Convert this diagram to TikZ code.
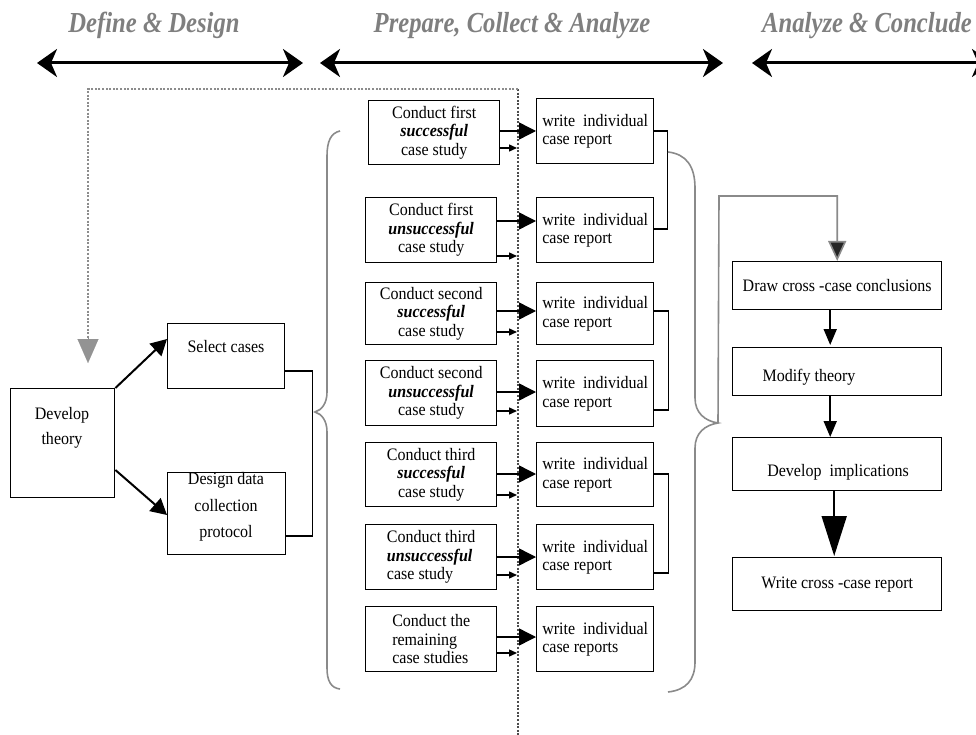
\documentclass[tikz,border=0pt]{standalone}
\usepackage{fontspec}
\setmainfont{Liberation Serif}[FakeStretch=0.915]
\newfontfamily\hdrfont{Liberation Serif}[FakeStretch=0.85]
\usetikzlibrary{arrows.meta}
\definecolor{hdrgray}{HTML}{7F7F7F}
\definecolor{bracegray}{HTML}{8A8A8A}
\definecolor{dotgray}{HTML}{8C8C8C}
\newcommand{\bi}[1]{\textbf{\textit{#1}}}

\begin{document}
\begin{tikzpicture}[x=1pt,y=-1pt,
  box/.style={draw,line width=1.4pt,inner sep=0pt,anchor=north west,align=center,
    font=\fontsize{17.5}{18.5}\selectfont},
  lbox/.style={box,align=left},
  txt/.style={inner sep=0pt,align=center,font=\fontsize{17.5}{18.5}\selectfont},
  hdr/.style={anchor=base,text=hdrgray,inner sep=0pt,
    font=\hdrfont\fontsize{29}{30}\selectfont\bfseries\itshape},
  phase/.style={line width=3pt,
    {Stealth[length=20pt,width=28pt,inset=6pt]}-{Stealth[length=20pt,width=28pt,inset=6pt]}},
  bigarr/.style={line width=1.4pt,-{Triangle[length=17pt,width=17pt]}},
  smallarr/.style={line width=1.4pt,-{Triangle[length=8pt,width=7pt]},shorten >=1pt},
  darr/.style={line width=1.8pt,-{Triangle[length=16pt,width=13pt]}},
  bigdarr/.style={line width=1.8pt,-{Triangle[length=40pt,width=25pt]}},
  devarr/.style={line width=2pt,-{Triangle[length=16pt,width=17pt]}},
  conn/.style={line width=1.4pt},
  brace/.style={draw=bracegray,line width=1.6pt},
  fb/.style={draw=bracegray,line width=1.6pt,-{Triangle[length=20pt,width=18pt,fill=black!85]}},
]
\useasboundingbox (0,0) rectangle (976,735);
\clip (0,0) rectangle (976,735);

% phase headings
\node[hdr] (h1) at (154,33) {Define \& Design};
\node[hdr] (h2) at (512,33) {Prepare, Collect \& Analyze};
\node[hdr] (h3) at (867,33) {Analyze \& Conclude};

\coordinate (p1l) at (37,63);  \coordinate (p1r) at (303,63);
\coordinate (p2l) at (320,63); \coordinate (p2r) at (723,63);
\coordinate (p3l) at (752,63); \coordinate (p3r) at (992,63);
\draw[phase] (p1l) -- (p1r);
\draw[phase] (p2l) -- (p2r);
\draw[phase] (p3l) -- (p3r);

% dotted guide lines
\coordinate (dtop) at (88,89);
\coordinate (dtip) at (88,363);
\coordinate (vtop) at (518,89);
\coordinate (vbot) at (518,735);
\draw[gray!60!black,line width=1.3pt,dash pattern=on 2pt off 1.6pt] (vtop) -- (vbot);
\draw[dotgray,line width=2.6pt,dash pattern=on 2pt off 1.6pt] (vtop) -- (dtop) -- (88,340);
\draw[dotgray,line width=0.1pt,-{Triangle[length=24pt,width=21pt,fill=gray!85]}] (88,338) -- (dtip);

% define & design
\node[box,minimum width=104pt,minimum height=109pt] (dev) at (10,388) {};
\node[txt,font=\fontsize{17.5}{25}\selectfont] (devt) at (62,428) {Develop\\theory};
\node[box,minimum width=117pt,minimum height=65pt] (sel) at (167,323) {};
\node[txt] (selt) at (226,347) {Select cases};
\node[box,minimum width=118pt,minimum height=82pt] (des) at (167,472) {};
\node[txt,font=\fontsize{17.5}{26.5}\selectfont] (dest) at (226,507) {Design data\\collection\\protocol};

\draw[devarr] (dev.north east) -- ([yshift=-16]sel.north west);
\draw[devarr] ([yshift=-82]dev.north east) -- ([yshift=-43]des.north west);
\draw[conn] ([yshift=-48]sel.north east) -- ++(27,0) |- ([yshift=-64]des.north east);

% case studies
\node[box,minimum width=131pt,minimum height=64pt] (c1) at (368,100) {Conduct first\\\bi{successful}\\case study};
\node[box,minimum width=131pt,minimum height=65pt] (c2) at (365,197) {Conduct first\\\bi{unsuccessful}\\case study};
\node[box,minimum width=131pt,minimum height=62pt] (c3) at (365,282) {Conduct second\\\bi{successful}\\case study};
\node[box,minimum width=131pt,minimum height=65pt] (c4) at (365,360) {Conduct second\\\bi{unsuccessful}\\case study};
\node[box,minimum width=131pt,minimum height=64pt] (c5) at (365,442) {Conduct third\\\bi{successful}\\case study};
\node[lbox,minimum width=131pt,minimum height=65pt] (c6) at (365,524) {Conduct third\\\bi{unsuccessful}\\case study};
\node[lbox,minimum width=131pt,minimum height=65pt] (c7) at (365,606) {Conduct the\\remaining\\case studies};

% individual reports
\node[lbox,minimum width=117pt,minimum height=65pt] (w1) at (536,98) {write\ \ individual\\case report};
\node[lbox,minimum width=117pt,minimum height=65pt] (w2) at (536,197) {write\ \ individual\\case report};
\node[lbox,minimum width=117pt,minimum height=62pt] (w3) at (536,282) {write\ \ individual\\case report};
\node[lbox,minimum width=117pt,minimum height=66pt] (w4) at (536,360) {write\ \ individual\\case report};
\node[lbox,minimum width=117pt,minimum height=64pt] (w5) at (536,442) {write\ \ individual\\case report};
\node[lbox,minimum width=117pt,minimum height=65pt] (w6) at (536,524) {write\ \ individual\\case report};
\node[lbox,minimum width=117pt,minimum height=65pt] (w7) at (536,606) {write\ \ individual\\case reports};

\foreach \i/\u/\l in {1/31/48, 2/24/59, 3/29/50, 4/32/51, 5/32/53, 6/33/51, 7/31/47} {
  \draw[bigarr] ([yshift=-\u]c\i.north east) -- ([yshift=-\u]c\i.north east -| w\i.west);
  \draw[smallarr] ([yshift=-\l]c\i.north east) -- ([yshift=-\l]c\i.north east -| vtop);
}

\draw[conn] ([yshift=-33]w1.north east) -- ++(13,0) |- ([yshift=-32]w2.north east);
\draw[conn] ([yshift=-29]w3.north east) -- ++(14,0) |- ([yshift=-50]w4.north east);
\draw[conn] ([yshift=-32]w5.north east) -- ++(14,0) |- ([yshift=-49]w6.north east);

% braces
\draw[brace] (340,131) .. controls (331,133) and (327,141) .. (327,156)
  -- (327,392) .. controls (327,403) and (322,410) .. (315,412)
  .. controls (322,414) and (327,421) .. (327,432)
  -- (327,668) .. controls (327,681) and (331,688) .. (340,689);
\coordinate (rtip) at (718,423);
\draw[brace] (668,152) .. controls (686,154) and (695,166) .. (695,188)
  -- (695,398) .. controls (695,413) and (705,421) .. (rtip)
  .. controls (705,425) and (695,433) .. (695,448)
  -- (695,662) .. controls (695,680) and (686,690) .. (668,692);

% analyze & conclude
\node[box,minimum width=209pt,minimum height=48pt] (dcc) at (732,261) {Draw cross -case conclusions};
\node[box,minimum width=209pt,minimum height=48pt] (mod) at (732,347) {};
\node[txt] (modt) at (809,377) {Modify theory};
\node[box,minimum width=209pt,minimum height=53pt] (imp) at (732,437) {};
\node[txt] (impt) at (838,472) {Develop\ \ implications};
\node[box,minimum width=209pt,minimum height=53pt] (wcr) at (732,557) {Write cross -case report};

\coordinate (fbk) at (719,196);
\draw[fb] (rtip) -- (fbk) -| (dcc.north);
\draw[darr] ([xshift=-7]dcc.south) -- ([xshift=-7,yshift=2]mod.north);
\draw[darr] ([xshift=-7]mod.south) -- ([xshift=-7]imp.north);
\draw[bigdarr] ([xshift=-3]imp.south) -- ([xshift=-3,yshift=1]wcr.north);
\end{tikzpicture}
\end{document}
